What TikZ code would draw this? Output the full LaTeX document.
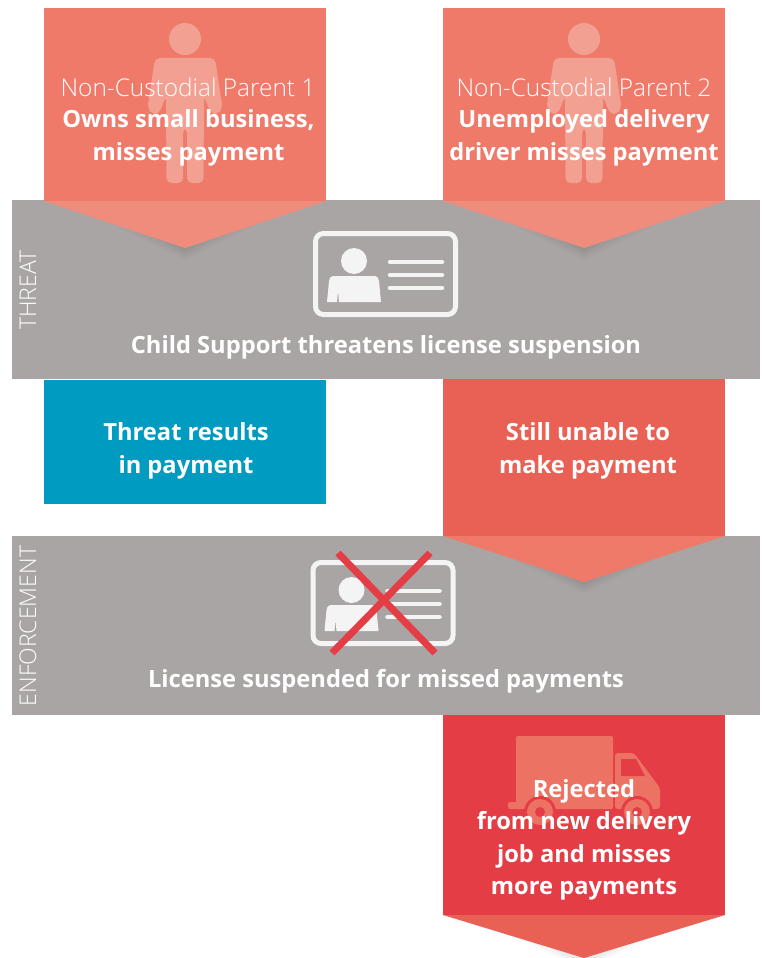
\documentclass[tikz,border=0pt]{standalone}
\usepackage{fontspec}
\setmainfont{Open Sans}
\newfontfamily\lightf{Open Sans Light}
\usetikzlibrary{calc}
\definecolor{salmon}{HTML}{EF7A6A}
\definecolor{salmonlt}{HTML}{F08C7C}
\definecolor{figlt}{HTML}{F2A091}
\definecolor{midred}{HTML}{E96155}
\definecolor{deepred}{HTML}{E43D45}
\definecolor{truckc}{HTML}{EC7364}
\definecolor{teal}{HTML}{009BC0}
\definecolor{band}{HTML}{A9A5A4}
\definecolor{iconc}{HTML}{F4F4F4}
\tikzset{
  x=1pt,y=-1pt,
  boldtext/.style={text=white,align=center,inner sep=0pt,font=\fontsize{23.7}{32.5}\selectfont\bfseries},
  lighttext/.style={text=white,align=center,inner sep=0pt,font=\fontsize{24.4}{32}\selectfont\lightf},
  sidetext/.style={text=white,inner sep=0pt,rotate=90,font=\fontsize{23}{24}\selectfont\lightf},
  iconline/.style={iconc,line width=4.5pt,line cap=round},
  crossline/.style={deepred,line width=7pt},
}
% #1 left x, #2 right x, #3 top y, #4 tip y, #5 colour of the tail
\newcommand{\arrowtail}[5]{%
  \foreach \i in {1,...,10}{
    \fill[black,opacity=0.013]
      ({#1+60-\i*4},#3) -- ({(#1+#2)/2},{#4+\i*1.2}) -- ({#2-60+\i*4},#3) -- cycle;
  }
  \fill[#5] (#1,#3) -- ({(#1+#2)/2},#4) -- (#2,#3) -- cycle;
}
\newcommand{\personfig}[1]{%
  \begin{scope}[shift={(#1,0)}]
    \fill[figlt] (0,39) circle (16);
    \fill[figlt,rounded corners=5pt]
      (-30,58) -- (30,58) -- (37.5,108) -- (33,114) -- (26,114) -- (19,96)
      -- (18.5,183) -- (2,183) -- (2,128) -- (-2,128) -- (-2,183) -- (-18.5,183)
      -- (-19,96) -- (-26,114) -- (-33,114) -- (-37.5,108) -- cycle;
  \end{scope}
}
\newcommand{\licenseicon}[2]{%
  \begin{scope}[shift={(#1,#2)}]
    \draw[iconc,line width=5pt,rounded corners=8pt] (315.5,233.5) rectangle (455.5,314.5);
    \fill[iconc] (354,261) circle (13);
    \fill[iconc] (333,276) -- (375,276) .. controls (378,276) and (378,278) .. (379,281)
       -- (381,302) -- (339,302) -- (338,291) -- (337,302) -- (327,302) -- (329,281)
       .. controls (330,278) and (330,276) .. (333,276) -- cycle;
    \draw[iconline] (390,262) -- (442,262);
    \draw[iconline] (390,275) -- (442,275);
    \draw[iconline] (390,288) -- (442,288);
  \end{scope}
}
\begin{document}
\begin{tikzpicture}
\useasboundingbox (0,0) rectangle (762,958);
% grey bands
\fill[band] (12,200) rectangle (760,379);
\fill[band] (12,536) rectangle (760,715);
% top boxes
\fill[salmon] (44,8) rectangle (326,201);
\fill[salmon] (443,8) rectangle (725,201);
\personfig{185}
\personfig{584}
\arrowtail{44}{326}{201}{248}{salmonlt}
\arrowtail{443}{725}{201}{248}{salmonlt}
% middle boxes
\fill[teal] (44,380) rectangle (326,504);
\arrowtail{443}{725}{536}{582}{salmon}
\fill[midred] (443,379) rectangle (725,536);
% bottom box
\arrowtail{443}{725}{915}{958}{midred}
\fill[deepred] (443,715) rectangle (725,915);
% truck
\fill[truckc,rounded corners=2pt] (516,736) rectangle (613,809);
\fill[truckc,rounded corners=2pt] (508,802) rectangle (520,809);
\fill[truckc,rounded corners=3pt] (615,753) -- (634,753) -- (660,788) -- (660,809) -- (615,809) -- cycle;
\fill[deepred] (621,759) -- (636,759) -- (645,776) -- (621,776) -- cycle;
\fill[deepred] (540,812) circle (16);
\fill[deepred] (637,812) circle (16);
\fill[truckc] (540,812) circle (13);
\fill[truckc] (637,812) circle (13);
\fill[deepred] (540,812) circle (5);
\fill[deepred] (637,812) circle (5);
% licence icons
\licenseicon{0}{0}
\licenseicon{-2.5}{329}
\draw[crossline] (338,553) -- (435,653);
\draw[crossline] (430,553) -- (332,653);
% texts
\node[sidetext] (threatlabel) at (28,290) {THREAT};
\node[sidetext] (enforcelabel) at (28,626) {ENFORCEMENT};
\node[lighttext] (p1role) at (188,87) {Non-Custodial Parent 1};
\node[boldtext] (p1text) at (188.5,138) {Owns small business,\\misses payment};
\node[lighttext] (p2role) at (584,87) {Non-Custodial Parent 2};
\node[boldtext] (p2text) at (584,138) {Unemployed delivery\\driver misses payment};
\node[boldtext] (threattext) at (386,347) {Child Support threatens license suspension};
\node[boldtext] (paidtext) at (186,451) {Threat results\\in payment};
\node[boldtext] (unabletext) at (588,451) {Still unable to\\make payment};
\node[boldtext] (suspendtext) at (386,681) {License suspended for missed payments};
\node[boldtext] (rejecttext) at (584,840) {Rejected\\from new delivery\\job and misses\\more payments};
\end{tikzpicture}
\end{document}
